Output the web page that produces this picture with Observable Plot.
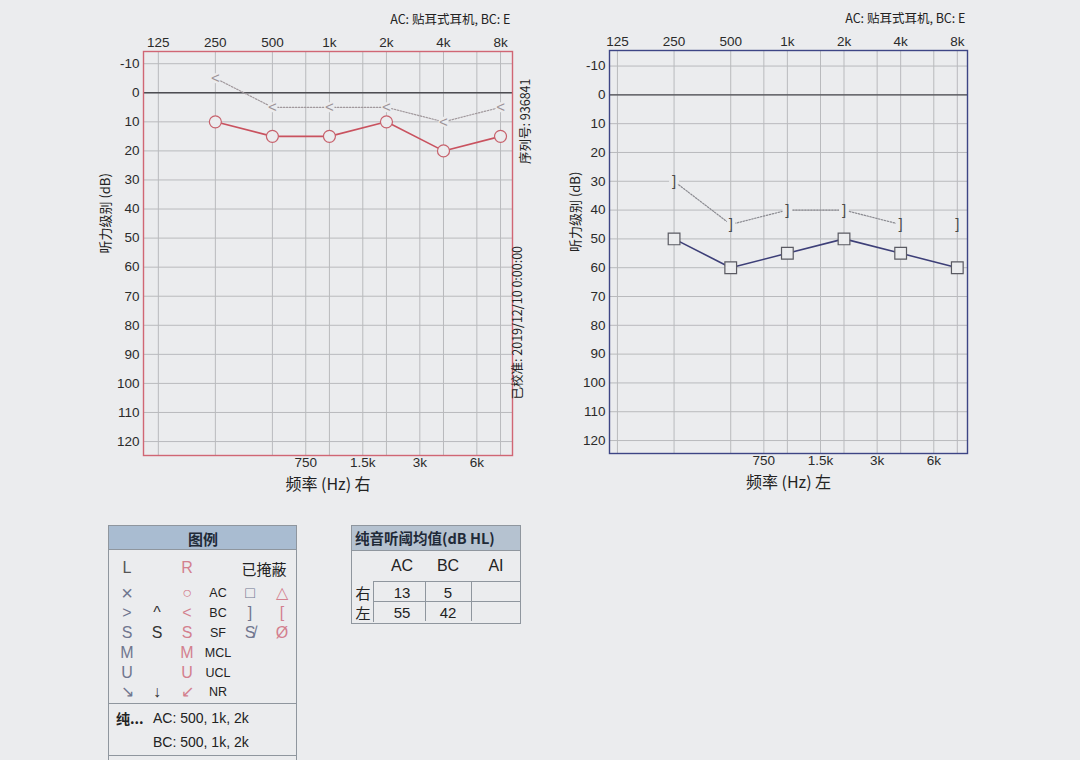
<!DOCTYPE html>
<html><head><meta charset="utf-8">
<script src="https://cdn.jsdelivr.net/npm/d3@7"></script>
<script src="https://cdn.jsdelivr.net/npm/@observablehq/plot@0.6"></script>
<style>
body{margin:0;width:1080px;height:760px;background:#ebecee;font-family:"Liberation Sans",Arial,"Noto Sans CJK SC",sans-serif;position:relative;overflow:hidden;color:#222}
.abs{position:absolute}
.c{position:absolute;transform:translate(-50%,-50%);white-space:nowrap;line-height:1}
.l{position:absolute;transform:translate(0,-50%);white-space:nowrap;line-height:1}
</style></head><body>
<div id="p1" class="abs" style="left:100px;top:0"></div>
<div id="p2" class="abs" style="left:560px;top:0"></div>
<div id="legend" class="abs" style="left:108px;top:525px;width:187px;height:240px;border:1px solid #8f969e;"></div>
<div id="avg" class="abs" style="left:351px;top:525px;width:168px;height:97px;border:1px solid #8f969e;"></div>
<script>
// ---- data ----
const freqs = [250, 500, 1000, 2000, 4000, 8000];
const rightAC = [10, 15, 15, 10, 20, 15];
const rightBC = [-5, 5, 5, 5, 10, 5];
const leftAC = [50, 60, 55, 50, 55, 60];
const leftBC = [30, 45, 40, 40, 45, 45];
const leftBCConnected = [true, true, true, true, true, false];
const octaveTicks = [125, 250, 500, 1000, 2000, 4000, 8000];
const octaveLabels = ["125", "250", "500", "1k", "2k", "4k", "8k"];
const halfTicks = [750, 1500, 3000, 6000];
const halfLabels = ["750", "1.5k", "3k", "6k"];
const dbTicks = [-10, 0, 10, 20, 30, 40, 50, 60, 70, 80, 90, 100, 110, 120];
const headerText = "AC: 贴耳式耳机, BC: E";
const serialText = "序列号: 936841";
const calibText = "已校准: 2019/12/10 0:00:00";
const avgCols = ["AC", "BC", "AI"];
const avgRows = ["右", "左"];
const avgValues = [[13, 5, ""], [55, 42, ""]];

const BG = "#ebecee";
const cjk = "'Noto Sans CJK SC', sans-serif";
const gridFreqs = [...octaveTicks, ...halfTicks];

function audiogram(o) {
  const ac = freqs.map((f, i) => ({f, db: o.ac[i]}));
  const bc = freqs.map((f, i) => ({f, db: o.bc[i], c: o.conn ? o.conn[i] : true}));
  const bcLine = bc.filter(d => d.c);
  const marks = [
    Plot.ruleX(gridFreqs, {stroke: "#b9babd", strokeWidth: 1}),
    Plot.ruleY(dbTicks, {stroke: "#b9babd", strokeWidth: 1}),
    Plot.ruleY([0], {stroke: "#4d4d52", strokeWidth: 1.3}),
    Plot.text(octaveTicks, {x: d => d, frameAnchor: "top", lineAnchor: "bottom", dy: -5, fontSize: 13.5, text: (d, i) => octaveLabels[i], fill: "#2a2a2a"}),
    Plot.text(halfTicks, {x: d => d, frameAnchor: "bottom", lineAnchor: "top", dy: 2, fontSize: 13.5, text: (d, i) => halfLabels[i], fill: "#2a2a2a"}),
    Plot.axisY(dbTicks, {anchor: "left", tickSize: 0, tickPadding: 4, fontSize: 13.5, tickFormat: d => String(d), label: null}),
    Plot.line(bcLine, {x: "f", y: "db", stroke: o.bcLineColor, strokeWidth: 1.2, strokeDasharray: "1.5,1.5"}),
    Plot.dot(bc, {x: "f", y: "db", r: 5, fill: BG, stroke: null}),
    Plot.text(bc, {x: "f", y: "db", text: () => o.bcGlyph, fill: o.bcColor, fontSize: 15}),
    Plot.line(ac, {x: "f", y: "db", stroke: o.color, strokeWidth: 1.6}),
    Plot.dot(ac, {x: "f", y: "db", r: o.acR, symbol: o.acSymbol, fill: BG, stroke: o.acStroke, strokeWidth: 1.2}),
    Plot.frame({stroke: o.frame, strokeWidth: 1.4}),
    Plot.text([o.xlabel], {frameAnchor: "bottom", dy: 34, fontSize: 16, fontFamily: cjk, fill: "#222"}),
    Plot.text(["听力级别 (dB)"], {frameAnchor: "left", dx: o.ylabelDx, rotate: -90, fontSize: 13, fontFamily: cjk, fill: "#222"}),
    Plot.text([headerText], {frameAnchor: "top-right", textAnchor: "end", dy: o.headerDy, dx: -2, fontSize: 12.5, fontFamily: cjk, fill: "#222"})
  ];
  if (o.side) {
    marks.push(Plot.text([serialText], {frameAnchor: "top-right", textAnchor: "end", rotate: -90, dx: 9, dy: 27, fontSize: 12.5, fontFamily: cjk, fill: "#222"}));
    marks.push(Plot.text([calibText], {frameAnchor: "bottom-right", textAnchor: "start", rotate: -90, dx: 9, dy: -56, fontSize: 12.5, fontFamily: cjk, fill: "#222"}));
  }
  return Plot.plot({
    width: o.width, height: 500,
    marginLeft: o.ml, marginRight: o.mr, marginTop: o.mt, marginBottom: o.mb,
    style: {background: "transparent", fontFamily: "'Liberation Sans', Arial, sans-serif", color: "#2a2a2a", overflow: "visible"},
    x: {type: "log", domain: o.xdomain, axis: null},
    y: {domain: o.ydomain, reverse: true},
    marks
  });
}

document.getElementById("p1").append(audiogram({
  ac: rightAC, bc: rightBC, color: "#c9525f", acStroke: "#c7616c", acSymbol: "circle", acR: 6,
  bcGlyph: "<", bcColor: "#9c9297", bcLineColor: "#a0989c",
  frame: "#d06674", xlabel: "频率 (Hz) 右", ylabelDx: -38, headerDy: -36, side: true,
  width: 440, ml: 43, mr: 28, mt: 51, mb: 45,
  xdomain: [125 * 2 ** -0.26, 8000 * 2 ** 0.21], ydomain: [-14.2, 124.8]
}));
document.getElementById("p2").append(audiogram({
  ac: leftAC, bc: leftBC, conn: leftBCConnected, color: "#3d3f78", acStroke: "#5a5a62", acSymbol: "square", acR: 6.6,
  bcGlyph: "]", bcColor: "#4a4a4a", bcLineColor: "#8a8a90",
  frame: "#3d4585", xlabel: "频率 (Hz) 左", ylabelDx: -34, headerDy: -36, side: false,
  width: 420, ml: 49, mr: 13, mt: 50, mb: 47,
  xdomain: [125 * 2 ** -0.14, 8000 * 2 ** 0.18], ydomain: [-15.4, 124.5]
}));

// ---- legend box ----
const lg = document.getElementById("legend");
const legendHeader = "图例";
const legendCols = [18, 48, 78, 109, 141, 173]; // x centers inside box
const legendRowsY = [42, 67, 87, 107, 127, 147, 166];
const legendRows = [
  ["L", "", "R", "", "", ""],
  ["×", "", "○", "AC", "□", "△"],
  [">", "^", "<", "BC", "]", "["],
  ["S", "S", "S", "SF", "S̸", "Ø"],
  ["M", "", "M", "MCL", "", ""],
  ["U", "", "U", "UCL", "", ""],
  ["↘", "↓", "↙", "NR", "", ""]
];
const legendColColors = ["#70768f", "#333", "#d3808e", "#222", "#70768f", "#d3808e"];
let h = `<div class="abs" style="left:0;top:0;width:187px;height:23px;background:#a9bcd1;border-bottom:1px solid #8f969e"></div>
<div class="c" style="left:94px;top:12px;font-family:${cjk};font-weight:bold;font-size:15px;color:#1f2a38">${legendHeader}</div>`;
legendRows.forEach((row, r) => {
  row.forEach((s, c) => {
    if (!s) return;
    const col = (r === 0 && c === 0) ? "#555" : legendColColors[c];
    const fs = c === 3 ? 12.5 : (s === "×" ? 20 : 16);
    h += `<div class="c" style="left:${legendCols[c]}px;top:${legendRowsY[r]}px;font-size:${fs}px;color:${col};font-family:'Liberation Sans',sans-serif">${s}</div>`;
  });
});
h += `<div class="c" style="left:155px;top:${legendRowsY[0]}px;font-size:15px;font-family:${cjk};color:#222">已掩蔽</div>`;
h += `<div class="abs" style="left:0;top:177px;width:187px;border-top:1px solid #8f969e"></div>`;
h += `<div class="l" style="left:7px;top:192px;font-size:14px;font-weight:bold;font-family:${cjk}">纯...</div>`;
h += `<div class="l" style="left:44px;top:192px;font-size:14px">AC: 500, 1k, 2k</div>`;
h += `<div class="l" style="left:44px;top:216px;font-size:14px">BC: 500, 1k, 2k</div>`;
h += `<div class="abs" style="left:0;top:229px;width:187px;border-top:1px solid #8f969e"></div>`;
lg.innerHTML = h;

// ---- average table ----
const av = document.getElementById("avg");
const colX = [50, 96, 144];
let a = `<div class="abs" style="left:0;top:0;width:168px;height:24px;background:#b5c2d0;border-bottom:1px solid #8f969e"></div>
<div class="l" style="left:3px;top:12px;font-family:${cjk};font-weight:bold;font-size:14.5px;color:#1f2a38">纯音听阈均值(dB HL)</div>`;
avgCols.forEach((c, i) => { a += `<div class="c" style="left:${colX[i]}px;top:40px;font-size:16px">${c}</div>`; });
a += `<div class="abs" style="left:21px;top:55px;width:147px;height:40px;border-top:1px solid #8f969e;border-left:1px solid #8f969e"></div>`;
a += `<div class="abs" style="left:21px;top:75px;width:147px;border-top:1px solid #8f969e"></div>`;
a += `<div class="abs" style="left:73px;top:55px;height:40px;border-left:1px solid #8f969e"></div>`;
a += `<div class="abs" style="left:119px;top:55px;height:40px;border-left:1px solid #8f969e"></div>`;
avgRows.forEach((r, i) => {
  a += `<div class="c" style="left:11px;top:${66 + i * 20}px;font-size:15px;font-family:${cjk}">${r}</div>`;
  avgValues[i].forEach((v, j) => { a += `<div class="c" style="left:${colX[j]}px;top:${66 + i * 20}px;font-size:15px">${v}</div>`; });
});
av.innerHTML = a;
</script>
</body></html>
